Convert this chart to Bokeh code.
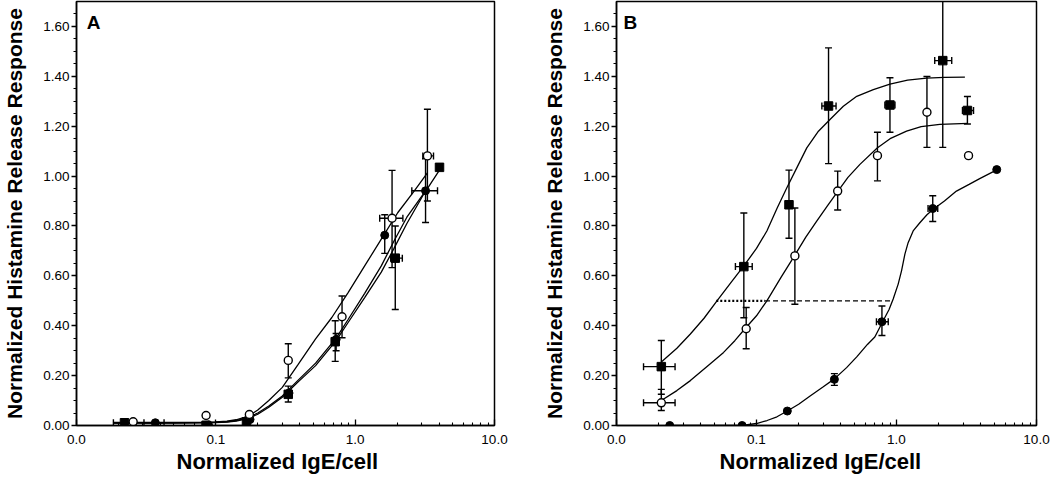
import numpy as np
from bokeh.plotting import figure
from bokeh.models import FixedTicker, NumeralTickFormatter, Range1d, Label, Title
from bokeh.layouts import row
from bokeh.embed import file_html
from bokeh.resources import INLINE

# ---------------- axis ticks / labels ----------------
x_major = [0.01, 0.1, 1.0, 10.0]
x_tick_labels = ["0.0", "0.1", "1.0", "10.0"]
x_minor = [0.02, 0.03, 0.04, 0.05, 0.06, 0.07, 0.08, 0.09,
           0.2, 0.3, 0.4, 0.5, 0.6, 0.7, 0.8, 0.9,
           2, 3, 4, 5, 6, 7, 8, 9]
y_major = [0.0, 0.2, 0.4, 0.6, 0.8, 1.0, 1.2, 1.4, 1.6]
y_minor = [0.05, 0.1, 0.15, 0.25, 0.3, 0.35, 0.45, 0.5, 0.55, 0.65, 0.7, 0.75,
           0.85, 0.9, 0.95, 1.05, 1.1, 1.15, 1.25, 1.3, 1.35, 1.45, 1.5, 1.55, 1.65]
x_title = "Normalized IgE/cell"
y_title = "Normalized Histamine Release Response"

# ---------------- Panel A data ----------------
A_sq_x = [0.0221, 0.0851, 0.166, 0.331, 0.719, 1.94, 4.03]
A_sq_y = [0.011, 0.001, 0.015, 0.125, 0.336, 0.671, 1.035]
A_sq_ylo = [None, None, None, 0.094, 0.257, 0.465, None]
A_sq_yhi = [None, None, None, 0.158, 0.420, 0.800, None]
A_sq_xlo = [0.0184, None, None, None, None, 1.80, None]
A_sq_xhi = [0.0269, None, None, None, None, 2.18, None]

A_fc_x = [0.0368, 0.0885, 0.176, 0.335, 0.73, 1.63, 3.20]
A_fc_y = [0.011, 0.002, 0.024, 0.13, 0.345, 0.763, 0.941]
A_fc_ylo = [None, None, None, None, 0.300, 0.690, 0.814]
A_fc_yhi = [None, None, None, None, 0.369, 0.845, 1.070]
A_fc_xlo = [0.0305, None, None, None, None, None, 2.55]
A_fc_xhi = [0.0425, None, None, None, None, None, 3.90]

A_oc_x = [0.0255, 0.0851, 0.174, 0.331, 0.805, 1.84, 3.30]
A_oc_y = [0.015, 0.040, 0.044, 0.261, 0.436, 0.831, 1.081]
A_oc_ylo = [None, None, None, 0.191, 0.352, 0.633, 0.900]
A_oc_yhi = [None, None, None, 0.328, 0.519, 1.023, 1.268]
A_oc_xlo = [None, None, None, None, None, 1.50, 3.06]
A_oc_xhi = [None, None, None, None, None, 2.20, 3.65]

# fitted curves, panel A
A_fit_oc_x = [0.0185, 0.03, 0.05, 0.08, 0.1, 0.12, 0.14, 0.16, 0.18, 0.2, 0.24, 0.3,
              0.39, 0.52, 0.68, 0.89, 1.17, 1.54, 2.02, 2.65, 3.30]
A_fit_oc_y = [0.012, 0.012, 0.012, 0.013, 0.014, 0.017, 0.023, 0.033, 0.046, 0.062, 0.10, 0.153,
              0.245, 0.347, 0.433, 0.533, 0.64, 0.747, 0.853, 0.94, 1.013]
A_fit_sq_x = [0.0185, 0.03, 0.05, 0.08, 0.1, 0.12, 0.14, 0.16, 0.18, 0.2, 0.24, 0.3,
              0.39, 0.52, 0.73, 0.89, 1.17, 1.54, 1.90, 2.35, 3.10, 4.06]
A_fit_sq_y = [0.010, 0.010, 0.010, 0.011, 0.012, 0.014, 0.018, 0.025, 0.034, 0.045, 0.073, 0.113,
              0.175, 0.24, 0.34, 0.413, 0.513, 0.615, 0.71, 0.81, 0.927, 1.027]
A_fit_fc_x = [0.0185, 0.03, 0.05, 0.08, 0.1, 0.12, 0.14, 0.16, 0.18, 0.2, 0.24, 0.3,
              0.39, 0.52, 0.73, 0.89, 1.17, 1.54, 1.90, 2.35, 3.20]
A_fit_fc_y = [0.011, 0.011, 0.011, 0.012, 0.013, 0.015, 0.020, 0.028, 0.038, 0.050, 0.078, 0.118,
              0.182, 0.25, 0.35, 0.425, 0.53, 0.64, 0.74, 0.835, 0.941]

# ---------------- Panel B data ----------------
B_sq_x = [0.0209, 0.0812, 0.1706, 0.327, 0.898, 2.14, 3.21]
B_sq_y = [0.236, 0.637, 0.885, 1.281, 1.285, 1.463, 1.263]
B_sq_ylo = [0.125, 0.432, 0.751, 1.050, 1.176, 1.115, 1.209]
B_sq_yhi = [0.341, 0.852, 1.024, 1.514, 1.394, 1.80, 1.319]
B_sq_xlo = [0.0156, 0.0707, None, 0.293, 0.826, 1.875, 2.96]
B_sq_xhi = [0.0262, 0.0932, None, 0.370, 0.975, 2.48, 3.55]

B_oc_x = [0.0209, 0.0844, 0.188, 0.380, 0.731, 1.65, 3.27]
B_oc_y = [0.091, 0.388, 0.680, 0.940, 1.082, 1.256, 1.082]
B_oc_ylo = [0.060, 0.308, 0.486, 0.864, 0.981, 1.115, None]
B_oc_yhi = [0.145, 0.473, 0.872, 1.020, 1.176, 1.399, None]
B_oc_xlo = [0.0156, None, None, None, None, None, None]
B_oc_xhi = [0.0262, None, None, None, None, None, None]

B_fc_x = [0.0240, 0.0789, 0.166, 0.360, 0.787, 1.815, 5.20]
B_fc_y = [0.0, 0.0, 0.058, 0.185, 0.416, 0.870, 1.026]
B_fc_ylo = [None, None, None, 0.161, 0.361, 0.818, None]
B_fc_yhi = [None, None, None, 0.208, 0.479, 0.921, None]
B_fc_xlo = [None, None, None, None, 0.719, 1.68, None]
B_fc_xhi = [None, None, None, None, 0.873, 1.97, None]

# fitted curves, panel B
B_fit_sq_x = [0.0209, 0.027, 0.0337, 0.0422, 0.0522, 0.065, 0.0822, 0.1, 0.1186, 0.14, 0.1647,
              0.194, 0.2287, 0.277, 0.335, 0.417, 0.52, 0.683, 0.898, 1.2, 1.64, 2.2, 3.08]
B_fit_sq_y = [0.255, 0.31, 0.367, 0.43, 0.50, 0.57, 0.644, 0.71, 0.78, 0.87, 0.953,
              1.033, 1.113, 1.18, 1.227, 1.28, 1.32, 1.347, 1.369, 1.385, 1.393, 1.396, 1.397]
B_fit_oc_x = [0.0209, 0.027, 0.0337, 0.045, 0.0582, 0.07, 0.0836, 0.1, 0.1186, 0.15, 0.1866,
              0.225, 0.27, 0.32, 0.382, 0.45, 0.548, 0.728, 0.9, 1.18, 1.5, 2.04, 3.24]
B_fit_oc_y = [0.10, 0.14, 0.18, 0.24, 0.293, 0.34, 0.391, 0.44, 0.50, 0.595, 0.68,
              0.755, 0.82, 0.88, 0.94, 0.995, 1.047, 1.113, 1.15, 1.18, 1.198, 1.207, 1.211]
B_fit_fc_x = [0.024, 0.04, 0.06, 0.0789, 0.1, 0.119, 0.14, 0.166, 0.2, 0.2415, 0.3, 0.36,
              0.44, 0.52, 0.62, 0.70, 0.803, 0.885, 0.947, 1.028, 1.086, 1.148, 1.211, 1.315,
              1.468, 1.65, 1.83, 2.2, 2.68, 3.3, 3.93, 5.2]
B_fit_fc_y = [0.0, 0.0, 0.0, 0.0, 0.008, 0.02, 0.035, 0.058, 0.085, 0.118, 0.155, 0.187,
              0.232, 0.275, 0.325, 0.355, 0.42, 0.465, 0.507, 0.567, 0.62, 0.687, 0.733, 0.78,
              0.813, 0.845, 0.867, 0.9, 0.94, 0.967, 0.99, 1.025]

# half-maximum guide line in panel B (dotted part, then dashed part)
halfmax_x = [0.0516, 0.115, 0.923]
halfmax_y = 0.5

FONT = "Liberation Sans"
FIG_H = 478


def make_panel(width, border_left, border_right, title_left):
    p = figure(width=width, height=FIG_H, x_axis_type="log",
               x_range=Range1d(0.01, 10), y_range=Range1d(0, 1.70),
               output_backend="svg", toolbar_location=None,
               min_border_left=border_left, min_border_right=border_right,
               min_border_top=1, min_border_bottom=FIG_H - 425)
    p.background_fill_color = "white"
    p.border_fill_color = "white"
    p.outline_line_color = "black"
    p.outline_line_width = 1.5
    p.outline_line_alpha = 1.0
    p.xgrid.visible = False
    p.ygrid.visible = False

    xa = p.xaxis[0]
    xa.ticker = FixedTicker(ticks=x_major, minor_ticks=x_minor)
    xa.major_label_overrides = {t: l for t, l in zip(x_major, x_tick_labels)}
    xa.major_tick_in = 6
    xa.major_tick_out = 0
    xa.minor_tick_in = 3
    xa.minor_tick_out = 0
    xa.major_label_standoff = 9

    ya = p.yaxis[0]
    ya.ticker = FixedTicker(ticks=y_major, minor_ticks=y_minor)
    ya.formatter = NumeralTickFormatter(format="0.00")
    ya.major_tick_in = 0
    ya.major_tick_out = 5
    ya.minor_tick_in = 0
    ya.minor_tick_out = 3
    ya.major_label_standoff = 2
    ya.axis_label = y_title
    ya.axis_label_standoff = 14

    for ax in (xa, ya):
        ax.axis_line_color = "black"
        ax.axis_line_width = 1.5
        ax.major_tick_line_color = "black"
        ax.major_tick_line_width = 1.3
        ax.minor_tick_line_color = "black"
        ax.minor_tick_line_width = 1.1
        ax.major_label_text_font = FONT
        ax.major_label_text_font_size = "13.5px"
        ax.major_label_text_color = "black"
        ax.axis_label_text_font = FONT
        ax.axis_label_text_font_size = "21px"
        ax.axis_label_text_font_style = "bold"
        ax.axis_label_text_color = "black"

    # x-axis title (slightly left of the frame centre, as in the original)
    p.add_layout(Title(text=x_title, align="left", offset=title_left, standoff=0,
                       text_font=FONT, text_font_size="22px", text_font_style="bold",
                       text_color="black"), "below")
    return p


def draw_errors(p, xs, ys, ylo, yhi, xlo, xhi):
    vx, v0, v1 = [], [], []
    for x, lo, hi in zip(xs, ylo, yhi):
        if lo is not None:
            vx.append(x); v0.append(lo); v1.append(hi)
    hy, h0, h1 = [], [], []
    for y, lo, hi in zip(ys, xlo, xhi):
        if lo is not None:
            hy.append(y); h0.append(lo); h1.append(hi)
    p.segment(x0=vx, y0=v0, x1=vx, y1=v1, line_color="black", line_width=1.4)
    p.scatter(vx + vx, v0 + v1, marker="dash", size=7, line_color="black", line_width=1.4)
    p.segment(x0=h0, y0=hy, x1=h1, y1=hy, line_color="black", line_width=1.4)
    p.scatter(h0 + h1, hy + hy, marker="dash", angle=np.pi / 2, size=7,
              line_color="black", line_width=1.4)


def draw_points(p, kind, xs, ys):
    if kind == "sq":
        p.scatter(xs, ys, marker="square", size=8.5, fill_color="black", line_color="black")
    elif kind == "fc":
        p.scatter(xs, ys, marker="circle", size=8, fill_color="black", line_color="black")
    else:
        p.scatter(xs, ys, marker="circle", size=8, fill_color="white", line_color="black",
                  line_width=1.4)


# ---------------- Panel A ----------------
pA = make_panel(540, 72, 46, 100)
for cx, cy in ((A_fit_oc_x, A_fit_oc_y), (A_fit_sq_x, A_fit_sq_y), (A_fit_fc_x, A_fit_fc_y)):
    pA.line(cx, cy, line_color="black", line_width=1.3)
draw_errors(pA, A_sq_x, A_sq_y, A_sq_ylo, A_sq_yhi, A_sq_xlo, A_sq_xhi)
draw_errors(pA, A_fc_x, A_fc_y, A_fc_ylo, A_fc_yhi, A_fc_xlo, A_fc_xhi)
draw_errors(pA, A_oc_x, A_oc_y, A_oc_ylo, A_oc_yhi, A_oc_xlo, A_oc_xhi)
draw_points(pA, "fc", A_fc_x, A_fc_y)
draw_points(pA, "sq", A_sq_x, A_sq_y)
draw_points(pA, "oc", A_oc_x, A_oc_y)
pA.add_layout(Label(x=0.01185, y=1.658, text="A", text_font=FONT, text_font_style="bold",
                    text_font_size="19px", text_baseline="top", text_color="black"))

# ---------------- Panel B ----------------
pB = make_panel(510, 76, 14, 103)
for cx, cy in ((B_fit_sq_x, B_fit_sq_y), (B_fit_oc_x, B_fit_oc_y), (B_fit_fc_x, B_fit_fc_y)):
    pB.line(cx, cy, line_color="black", line_width=1.3)
pB.line(halfmax_x[:2], [halfmax_y, halfmax_y], line_color="black", line_width=2.2, line_dash="2 2")
pB.line(halfmax_x[1:], [halfmax_y, halfmax_y], line_color="black", line_width=1.3, line_dash="5 3")
draw_errors(pB, B_sq_x, B_sq_y, B_sq_ylo, B_sq_yhi, B_sq_xlo, B_sq_xhi)
draw_errors(pB, B_oc_x, B_oc_y, B_oc_ylo, B_oc_yhi, B_oc_xlo, B_oc_xhi)
draw_errors(pB, B_fc_x, B_fc_y, B_fc_ylo, B_fc_yhi, B_fc_xlo, B_fc_xhi)
draw_points(pB, "sq", B_sq_x, B_sq_y)
draw_points(pB, "fc", B_fc_x, B_fc_y)
draw_points(pB, "oc", B_oc_x, B_oc_y)
pB.add_layout(Label(x=0.01122, y=1.658, text="B", text_font=FONT, text_font_style="bold",
                    text_font_size="19px", text_baseline="top", text_color="black"))

layout = row(pA, pB)
open("out.html", "w").write(file_html(layout, INLINE))
